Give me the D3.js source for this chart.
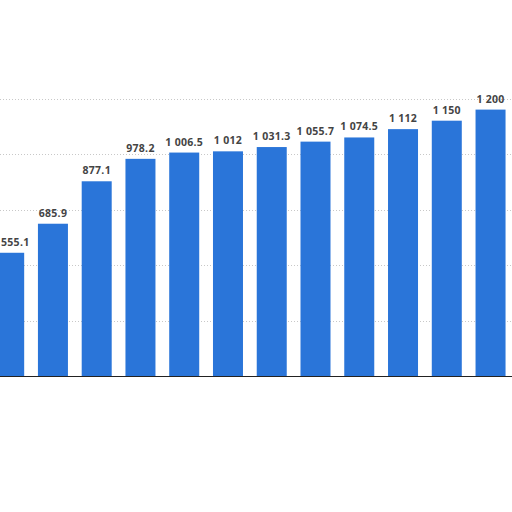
<!DOCTYPE html>
<html>
<head>
<meta charset="utf-8">
<script src="https://cdn.jsdelivr.net/npm/d3@7"></script>
<style>
  html, body { margin: 0; padding: 0; background: #fff; }
  #vis { width: 512px; height: 512px; overflow: hidden; }
  .label { font-family: "Open Sans", sans-serif; font-size: 10.5px; font-weight: 700; fill: #444; letter-spacing: 0.3px; }
</style>
</head>
<body>
<div id="vis"></div>
<script>
// categories are not readable in the picture, only their order
const categories = ['c1', 'c2', 'c3', 'c4', 'c5', 'c6', 'c7', 'c8', 'c9', 'c10', 'c11', 'c12'];
const values = [555.1, 685.9, 877.1, 978.2, 1006.5, 1012, 1031.3, 1055.7, 1074.5, 1112, 1150, 1200];
const gridTicks = [250, 500, 750, 1000, 1250];

const width = 512;
const height = 512;
const baseline = 376;

const svg = d3.select('#vis')
              .append('svg')
                .attr('width', width)
                .attr('height', height);

const step = 43.76;
const x = d3.scaleBand()
            .domain(categories)
            .range([-12.7, -12.7 + step * categories.length])
            .paddingInner(0.3144)
            .paddingOuter(0.1572);

const y = d3.scaleLinear()
            .domain([0, 1250])
            .range([baseline, baseline - 277.5]);

const fmt = d3.formatLocale({ decimal: '.', thousands: ' ', grouping: [3], currency: ['', ''] }).format(',');

// dotted grid
svg.append('g')
    .selectAll('line')
    .data(gridTicks)
    .join('line')
      .attr('x1', 0)
      .attr('x2', width)
      .attr('y1', d => Math.round(y(d)) + 0.5)
      .attr('y2', d => Math.round(y(d)) + 0.5)
      .attr('stroke', '#c8c8c8')
      .attr('stroke-width', 1)
      .attr('stroke-dasharray', '1,2');

svg.append('g')
    .selectAll('rect')
    .data(values)
    .join('rect')
      .attr('x', (d, i) => x(categories[i]))
      .attr('y', d => y(d))
      .attr('width', x.bandwidth())
      .attr('height', d => y(0) - y(d))
      .attr('fill', '#2a75d9');

const labels = svg.append('g')
    .selectAll('text')
    .data(values)
    .join('text')
      .attr('class', 'label')
      .attr('x', (d, i) => x(categories[i]) + x.bandwidth() / 2)
      .attr('y', d => y(d) - 7)
      .attr('text-anchor', 'middle')
      .text(d => fmt(d));

// keep the first label inside the picture
labels.each(function () {
  const w = this.getComputedTextLength();
  const cx = +this.getAttribute('x');
  if (cx - w / 2 < 1) this.setAttribute('x', w / 2 + 1);
});

// baseline axis
const xAxis = d3.axisBottom(x).tickSize(0).tickFormat('');
svg.append('g')
    .attr('transform', 'translate(0,' + (baseline + 0.5) + ')')
    .call(xAxis)
    .call(g => g.select('.domain').attr('stroke', '#222').attr('d', 'M0,0H' + width));
</script>
</body>
</html>
